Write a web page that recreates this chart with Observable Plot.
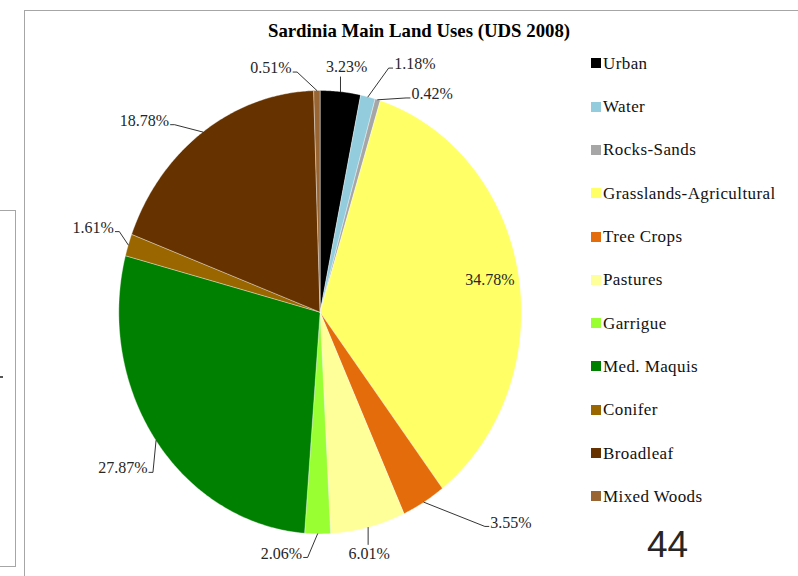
<!DOCTYPE html>
<html>
<head>
<meta charset="utf-8">
<script src="https://cdn.jsdelivr.net/npm/d3@7"></script>
<script src="https://cdn.jsdelivr.net/npm/@observablehq/plot@0.6"></script>
<style>
  html, body { margin: 0; padding: 0; background: #fff; }
  #slide { position: relative; width: 798px; height: 576px; overflow: hidden; font-family: "Liberation Serif", serif; }
  #chart { position: absolute; left: 0; top: 0; }
  .frame { position: absolute; left: 24px; top: 10px; width: 820px; height: 620px; border-left: 1px solid #a6a6a6; border-top: 1px solid #a6a6a6; }
  .sidebox { position: absolute; left: -20px; top: 210px; width: 34px; height: 355px; border: 1px solid #a6a6a6; }
  .dot { position: absolute; left: 0; top: 376px; width: 3px; height: 2px; background: #555; }
  .title { position: absolute; left: 219px; width: 400px; top: 21px; text-align: center; font-weight: bold; font-size: 18.8px; line-height: 19px; color: #000; white-space: nowrap; }
  .legend-item { position: absolute; left: 591px; height: 17px; display: flex; align-items: center; }
  .legend-item .sw { width: 10px; height: 10px; margin-right: 2px; flex: none; }
  .legend-item .lb { font-size: 17px; line-height: 17px; letter-spacing: 0.4px; color: #111; white-space: nowrap; }
  .page { position: absolute; left: 647px; top: 526px; font-family: "Liberation Sans", sans-serif; font-size: 37px; line-height: 37px; color: #262626; }
</style>
</head>
<body>
<div id="slide">
  <div class="frame"></div>
  <div class="sidebox"></div>
  <div class="dot"></div>
  <div id="chart"></div>
  <div class="title">Sardinia Main Land Uses (UDS 2008)</div>
  <div id="legend"></div>
  <div class="page">44</div>
</div>
<script>
// Land-use categories, their share of the island (%) and fill colours
const categories = ["Urban", "Water", "Rocks-Sands", "Grasslands-Agricultural", "Tree Crops", "Pastures", "Garrigue", "Med. Maquis", "Conifer", "Broadleaf", "Mixed Woods"];
const shares = [3.23, 1.18, 0.42, 34.78, 3.55, 6.01, 2.06, 27.87, 1.61, 18.78, 0.51];
const palette = ["#000000", "#93CDDD", "#A6A6A6", "#FFFF66", "#E46C0A", "#FFFF99", "#99FF33", "#008000", "#996600", "#663300", "#996633"];

// Where each percentage label sits: [angle in degrees clockwise from 12 o'clock, distance from centre in radii]
const labelSpots = [[6.8, 1.114], [22.8, 1.214], [29.5, 1.131], [80.2, 0.856], [135, 1.341], [167.4, 1.115], [190, 1.105], [234.3, 1.207], [288.7, 1.19], [314.7, 1.228], [347.5, 1.128]];

// Pie frame on the page (pixels): centre and radii of the drawn ellipse
const cx = 319.6, cy = 311.7, rx = 201.3, ry = 221.7;
const pxX = 1 / rx, pxY = 1 / ry; // one pixel expressed in pie units

const arcs = d3.pie().sort(null).value(d => d)(shares);

// Slice outlines: centre, arc points, back to centre
const slicePts = [];
arcs.forEach((a, i) => {
  const name = categories[i];
  slicePts.push({name, x: 0, y: 0});
  const n = Math.max(2, Math.ceil((a.endAngle - a.startAngle) / (Math.PI / 360)));
  for (let k = 0; k <= n; k++) {
    const t = a.startAngle + (a.endAngle - a.startAngle) * k / n;
    slicePts.push({name, x: Math.sin(t), y: Math.cos(t)});
  }
  slicePts.push({name, x: 0, y: 0});
});

const fmt = v => v.toFixed(2) + "%";
const textWidth = s => [...s].reduce((w, c) => w + (c === "%" ? 13.3 : c === "." ? 4 : 8), 0);

const labels = arcs.map((a, i) => {
  const [deg, r] = labelSpots[i];
  const t = deg * Math.PI / 180;
  return {name: categories[i], text: fmt(shares[i]), x: r * Math.sin(t), y: r * Math.cos(t), mid: (a.startAngle + a.endAngle) / 2, inside: r < 1};
});

// Leader lines from the slice edge (at its middle angle) to the outside labels
const leaders = [];
labels.filter(d => !d.inside).forEach(d => {
  const ex = Math.sin(d.mid), ey = Math.cos(d.mid);
  const hw = textWidth(d.text) / 2;
  const dxPx = (d.x - ex) * rx;
  if (Math.abs(dxPx) < hw) {
    const endY = d.y > ey ? d.y - 10 * pxY : d.y + 9 * pxY;
    leaders.push({name: d.name, x: ex, y: ey}, {name: d.name, x: ex, y: endY});
  } else {
    const side = Math.sign(dxPx);
    const endX = d.x - side * (hw + 1.5) * pxX;
    const elbowX = endX - side * 4 * pxX;
    const yy = d.y - 4 * pxY;
    leaders.push({name: d.name, x: endX, y: yy}, {name: d.name, x: elbowX, y: yy}, {name: d.name, x: ex, y: ey});
  }
});

const chart = Plot.plot({
  width: 798,
  height: 576,
  margin: 0,
  x: {domain: [-1, 1], range: [cx - rx, cx + rx], axis: null},
  y: {domain: [-1, 1], range: [cy + ry, cy - ry], axis: null},
  color: {domain: categories, range: palette},
  marks: [
    Plot.line(slicePts, {x: "x", y: "y", z: "name", fill: "name", stroke: "#ffffff", strokeWidth: 0.5, strokeOpacity: 0.7, curve: "linear"}),
    Plot.line(leaders, {x: "x", y: "y", z: "name", stroke: "#000000", strokeWidth: 0.8, curve: "linear"}),
    Plot.text(labels, {x: "x", y: "y", text: "text", fontSize: 16, fontFamily: "Liberation Serif", fill: "#262626"})
  ]
});
chart.style.background = "transparent";
document.getElementById("chart").appendChild(chart);

// Legend: one row per category, down the right side
const legend = document.getElementById("legend");
categories.forEach((c, i) => {
  const item = document.createElement("div");
  item.className = "legend-item";
  item.style.top = (63.3 + i * 43.3 - 8.5) + "px";
  const sw = document.createElement("span");
  sw.className = "sw";
  sw.style.background = palette[i];
  const lb = document.createElement("span");
  lb.className = "lb";
  lb.textContent = c;
  item.append(sw, lb);
  legend.appendChild(item);
});
</script>
</body>
</html>
